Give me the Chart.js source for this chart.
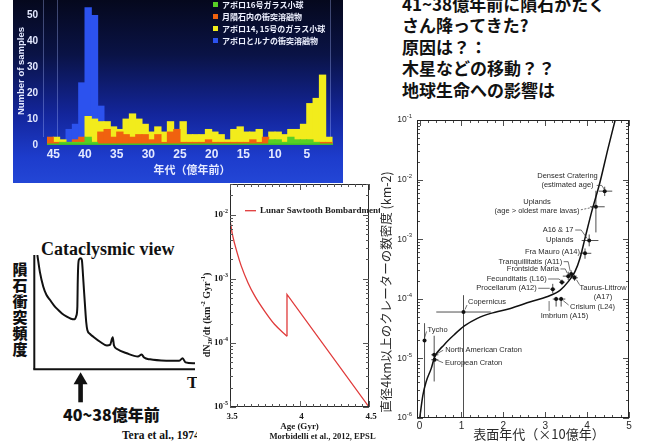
<!DOCTYPE html>
<html lang="ja">
<head>
<meta charset="utf-8">
<title>月の隕石衝突史</title>
<script src="https://cdn.jsdelivr.net/npm/chart.js@4.4.1/dist/chart.umd.min.js"></script>
<style>
  html, body { margin: 0; padding: 0; background: #fff; }
  body { position: relative; width: 653px; height: 445px; overflow: hidden; }
  .box { position: absolute; }
  .box canvas { display: block; }
  #histBox { left: 13px; top: 0; width: 330px; height: 183px; z-index: 2;
    background: linear-gradient(180deg, #05081d 0%, #0a1346 30%, #13259a 62%, #1d3ccc 86%, #2346d6 100%); }
  #note { left: 402px; top: -7.25px; z-index: 1; color: #111; white-space: pre;
    font: bold 17px/21.5px "Noto Sans CJK JP", sans-serif; }
  #sketchBox { left: 0; top: 230px; width: 200px; height: 178px; z-index: 1; }
  .t { position: absolute; white-space: nowrap; color: #111; z-index: 1; }
  #sketchTitle { left: 41px; top: 239px; font: bold 18px/20px "Liberation Serif", serif; }
  #sketchY { left: 11.5px; top: 262px; writing-mode: vertical-rl; letter-spacing: 1px;
    font: 900 15px/16px "Noto Sans CJK JP", sans-serif; }
  #sketchT { left: 187px; top: 374px; font: bold 17px/18px "Liberation Serif", serif; }
  #sketchEra { left: 63px; top: 404.5px; font: 900 16px/18px "Noto Sans CJK JP", sans-serif; }
  #sketchRef { left: 122px; top: 428.5px; font: bold 11.5px/13px "Liberation Serif", serif; }
  #sawBox { left: 197px; top: 183px; width: 183px; height: 262px; background: #fff; z-index: 3; }
  #craterBox { left: 372px; top: 105px; width: 281px; height: 340px; z-index: 4; }
</style>
</head>
<body>
<div class="box" id="histBox"><canvas id="hist" width="330" height="183"></canvas></div>

<div class="box" id="note">41~38億年前に隕石がたく
さん降ってきた?
原因は？：
木星などの移動？？
地球生命への影響は</div>

<div class="t" id="sketchTitle">Cataclysmic view</div>
<div class="t" id="sketchY">隕石衝突頻度</div>
<div class="t" id="sketchT">T</div>
<div class="t" id="sketchEra">40~38億年前</div>
<div class="t" id="sketchRef">Tera et al., 1974</div>
<div class="box" id="sketchBox"><canvas id="sketch" width="200" height="178"></canvas></div>

<div class="box" id="sawBox"><canvas id="saw" width="183" height="262"></canvas></div>
<div class="box" id="craterBox"><canvas id="crater" width="281" height="340"></canvas></div>

<script>
// ---------------------------------------------------------------
// Impact-age histogram: 100-Myr bins, each labelled by the younger
// edge of the bin (in units of 100 Myr before present).
// ---------------------------------------------------------------
const binAge = [45,44,43,42,41,40,39,38,37,36,35,34,33,32,31,30,29,28,27,26,25,24,23,
                22,21,20,19,18,17,16,15,14,13,12,11,10,9,8,7,6,5,4,3,2,1];
const apollo16Glass   = [0,0,1,1,1,1,3,1,0,0,0,0,0,0,0,0,0,0,0,0,0,0,0,
                         0,0,0,0,0,0,0,0,0,0,0,0,2,2,1,3,2,2,2,1,0,0];
const meteoriteMelt   = [3,1,1,1,2,3,2,1,5,6,3,5,4,3,4,4,2,4,1,5,6,1,1,
                         1,1,2,1,1,1,1,1,1,2,1,3,0,0,1,1,1,1,1,1,1,1];
const apollo1415Glass = [0,3,2,0,1,1,11,10,9,9,7,6,10,12,10,8,5,7,5,9,6,9,4,
                         4,4,6,5,4,2,6,7,5,5,6,0,5,5,4,6,6,8,16,18,27,3];
const apolloLunaMelt  = [0,0,0,6,8,24,53,50,15,0,0,0,0,0,0,0,0,0,0,0,0,0,0,
                         0,0,0,0,0,0,0,0,0,0,0,0,0,0,0,0,0,0,0,0,0,0];
const histSeriesNames = ['アポロ16号ガラス小球', '月隕石内の衝突溶融物',
                         'アポロ14, 15号のガラス小球', 'アポロとルナの衝突溶融物'];
const histXTicks = [45,40,35,30,25,20,15,10,5];
const histYTicks = [0,10,20,30,40,50];

// Cataclysm sketch: relative time vs. relative impact frequency
const sketchTime = [1.9,3.5,5.6,7.6,9.8,12.3,14.9,17.2,20.2,22.8,25.1,26.1,26.8,27.0,27.3,27.8,28.8,
                    29.6,30.1,30.9,31.6,32.3,33.0,34.7,36.7,40.9,45.2,47.1,48.8,49.6,51.5,57.5,64.5,
                    66.8,68.3,72.0,82.4,90.0,92.3,94.1,100];
const sketchFlux = [100,85,72.3,65,60.6,55.8,51.9,48.8,46,44.2,43.7,46.6,54.8,73.8,89.8,96,97.1,
                    95.6,86.9,69.4,54.8,41.4,34.4,30.9,28.5,24.1,20.8,21.3,28,20.8,17.8,14,11.2,
                    12.9,10.3,8.7,7.5,7.4,9.6,6.1,5.2];
const sketchPeakTime = 28.8;

// Lunar sawtooth bombardment: crater production rate (km^-2 Gyr^-1)
const sawDecayAge  = [3.50, 3.52, 3.55, 3.58, 3.63, 3.68, 3.75, 3.82, 3.91];
const sawDecayRate = [8.1e-3, 4.6e-3, 2.6e-3, 1.6e-3, 8.6e-4, 5.3e-4, 3.1e-4, 1.95e-4, 1.27e-4];
const sawSpikeAge  = [3.91, 3.91, 4.50];
const sawSpikeRate = [1.27e-4, 5.7e-4, 1.0e-5];
const sawXTicks = [3.5, 4, 4.5];
const sawYExponents = [-5, -4, -3, -2];

// Crater density (D > 4 km) vs. surface age (Gyr)
const curveAge     = [0.005,0.08,0.16,0.28,0.36,0.59,0.83,1.07,1.38,1.70,2.17,2.65,3.04,3.36,
                      3.55,3.71,3.83,3.95,4.11,4.31,4.50,4.67];
const curveDensity = [1.0e-6,2.4e-6,4.1e-6,6.8e-6,1.05e-5,1.7e-5,2.5e-5,3.5e-5,4.7e-5,5.7e-5,
                      6.9e-5,8.9e-5,1.08e-4,1.4e-4,1.94e-4,2.85e-4,4.8e-4,1.04e-3,2.9e-3,9.2e-3,
                      3.35e-2,1.0e-1];
const siteName    = ['Tycho','North American Craton','European Craton','Copernicus','Procellarum (A12)',
                     'Fecunditatis (L16)','Frontside Maria','Tranquillitatis (A11)','Taurus-Littrow (A17)',
                     'Imbrium (A15)','Crisium (L24)','Fra Mauro (A14)','A16 & 17 Uplands','Uplands','Densest Cratering'];
const siteAge     = [0.12, 0.35, 0.36, 1.05, 3.18, 3.40, 3.55, 3.62, 3.70, 3.26, 3.38, 3.95, 4.05, 4.21, 4.42];
const siteDensity = [2.0e-5, 1.15e-5, 9.5e-6, 6.0e-5, 1.45e-4, 1.9e-4, 2.4e-4, 2.6e-4, 2.25e-4,
                     9.9e-5, 9.9e-5, 5.8e-4, 9.5e-4, 3.5e-3, 6.4e-3];
const siteAgeLo   = [null, 0.28, 0.28, 0.40, 3.12, 3.33, 3.42, 3.55, 3.62, 3.18, 3.32, 3.83, 3.87, 4.07, 4.28];
const siteAgeHi   = [null, 0.45, 0.45, 1.70, 3.24, 3.47, 3.75, 3.70, 3.78, 3.32, 3.48, 4.10, 4.27, 4.42, 4.60];
const siteDensLo  = [1e-6, 4.1e-6, null, 1e-6, 1.24e-4, 1.7e-4, 2.05e-4, 2.3e-4, 2.0e-4,
                     7.4e-5, 7.4e-5, 4.7e-4, 7.6e-4, 1.3e-3, 5.3e-3];
const siteDensHi  = [3.9e-5, 2.4e-5, null, 1.15e-4, 1.78e-4, 2.1e-4, 2.85e-4, 3.0e-4, 2.5e-4,
                     1.08e-4, 1.08e-4, 7.0e-4, 1.2e-3, 6.5e-3, 7.6e-3];
const craterXTicks = [0,1,2,3,4,5];
const craterYExponents = [-6,-5,-4,-3,-2,-1];

// label placement for each site (pixel offsets from the plotted point)
const siteLabelLayout = [
  { lines:['Tycho'], dx:3, dy:-10.5, align:'left', lead:[[2,-9],[0,-2.5]] },
  { lines:['North American Craton'], dx:11, dy:-4.5, align:'left', lead:[[9,-4.5],[2.5,-1]] },
  { lines:['European Craton'], dx:10.5, dy:3.6, align:'left', lead:[[8.5,3],[2.5,0.5]] },
  { lines:['Copernicus'], dx:4.5, dy:-9.7, align:'left', lead:[[3.5,-7],[1.5,-2.5]] },
  { lines:['Procellarum (A12)'], dx:-16, dy:-0.9, align:'right', lead:[[-14.5,-0.9],[-3,-0.9]] },
  { lines:['Fecunditatis (L16)'], dx:-15.3, dy:-3.2, align:'right', lead:[[-13.8,-3.2],[-3,-3.2],[-1,-1.5]] },
  { lines:['Frontside Maria'], dx:-9.3, dy:-7.2, align:'right', lead:[[-7.8,-7.2],[-3,-7.2],[-1,-3]] },
  { lines:['Tranquillitatis (A11)'], dx:-9, dy:-12.4, align:'right', lead:[[-7.5,-12.4],[-3,-12.4],[-1,-3]] },
  { lines:['Taurus-Littrow','(A17)'], dx:28.5, dy:9.9, align:'center', lead:[[5,7],[2,2]] },
  { lines:['Imbrium (A15)'], dx:8.3, dy:16.7, align:'center', lead:[[-7,12],[-7,2]] },
  { lines:['Crisium (L24)'], dx:8.9, dy:7.7, align:'left', lead:[[7.5,6],[2,1.5]] },
  { lines:['Fra Mauro (A14)'], dx:-5, dy:-1.6, align:'right', lead:[[-3.5,-1.6],[-1.5,-0.5]] },
  { lines:['A16 & 17','Uplands'], dx:-15.7, dy:-10.5, align:'right', lead:[[-14,-10.5],[-8,-10.5],[-2,-2]] },
  { lines:['Uplands','(age > oldest mare lavas)'], dx:-58.9, dy:-5.1, align:'center', lead:[[-15,3],[-3,0.5]], dash:true },
  { lines:['Densest Cratering','(estimated age)'], dx:-37.2, dy:-15.5, align:'center', lead:[[-8,-5.7],[-3,-5.7],[-0.5,-2]] }
];

// ---------------------------------------------------------------
const pts = (xs, ys) => xs.map((v, i) => ({ x: v, y: ys[i] }));
const SERIF = '"Liberation Serif", "Times New Roman", serif';
const SANS = '"Liberation Sans", Arial, sans-serif';
const JP = '"Noto Sans CJK JP", sans-serif';

function richText(ctx, parts, x, y, align) {
  let w = 0;
  parts.forEach(p => { ctx.font = p.font; p.w = ctx.measureText(p.t).width; w += p.w; });
  let cx = align === 'right' ? x - w : (align === 'center' ? x - w / 2 : x);
  ctx.textAlign = 'left';
  parts.forEach(p => { ctx.font = p.font; ctx.fillText(p.t, cx, y + (p.dy || 0)); cx += p.w; });
}
function seg(ctx, x1, y1, x2, y2) { ctx.beginPath(); ctx.moveTo(x1, y1); ctx.lineTo(x2, y2); ctx.stroke(); }

const common = { responsive: false, animation: false, devicePixelRatio: 1,
                 plugins: { legend: { display: false }, tooltip: { enabled: false } } };

// ---------------- histogram ----------------
const histColors = ['#58cf26', '#f0620f', '#f2ec1c', '#2c52ee'];
const histSeries = [apollo16Glass, meteoriteMelt, apollo1415Glass, apolloLunaMelt];

const histAxes = {
  id: 'histAxes',
  beforeDatasetsDraw(chart) {
    const { ctx, chartArea: a } = chart;
    ctx.save();
    ctx.strokeStyle = 'rgba(170,185,255,0.35)';
    ctx.lineWidth = 1;
    [a.left - 3.5, a.left + 10.5, a.right - 2.5].forEach(px => seg(ctx, px, 0, px, a.bottom - 8));
    ctx.restore();
  },
  afterDatasetsDraw(chart) {
    const { ctx, chartArea: a, scales: { x, y } } = chart;
    ctx.save();
    ctx.fillStyle = '#3fbf2a';
    ctx.fillRect(a.left, a.bottom - 1.5, a.right - a.left, 1.5);
    ctx.fillStyle = '#e4e9ff';
    ctx.textBaseline = 'middle';
    ctx.textAlign = 'right';
    ctx.font = 'bold 10px ' + SANS;
    histYTicks.forEach(v => ctx.fillText(String(v), a.left - 9, y.getPixelForValue(v)));
    ctx.textAlign = 'center';
    ctx.font = 'bold 12px ' + SANS;
    histXTicks.forEach(v => ctx.fillText(String(v), x.getPixelForValue(v), a.bottom + 10));
    ctx.font = 'bold 11px ' + JP;
    ctx.fillText('年代（億年前）', (a.left + a.right) / 2 + 2, a.bottom + 25);
    ctx.save();
    ctx.translate(8, 71);
    ctx.rotate(-Math.PI / 2);
    ctx.font = 'bold 9.5px ' + SANS;
    ctx.fillText('Number of samples', 0, 0);
    ctx.restore();
    // legend
    ctx.textAlign = 'left';
    ctx.font = 'bold 8px ' + JP;
    histSeriesNames.forEach((name, i) => {
      const ly = 4.5 + i * 12;
      ctx.fillStyle = histColors[i];
      ctx.fillRect(200, ly - 2.5, 5, 5);
      ctx.fillStyle = '#eef1ff';
      ctx.fillText(name, 209, ly);
    });
    ctx.restore();
  }
};

new Chart(document.getElementById('hist'), {
  type: 'bar',
  data: {
    datasets: histSeries.map((vals, i) => ({
      label: histSeriesNames[i],
      data: pts(binAge.map(a => a + 0.5), vals),
      backgroundColor: histColors[i],
      borderWidth: 0,
      inflateAmount: 0.5,
      grouped: false,
      barPercentage: 1,
      categoryPercentage: 1
    }))
  },
  options: Object.assign({}, common, {
    layout: { padding: { left: 34, right: 10, top: 0, bottom: 38 } },
    scales: {
      x: { type: 'linear', reverse: true, min: 0.85, max: 46, offset: false, display: false,
           ticks: { stepSize: 1 } },
      y: { min: 0, max: 56, display: false }
    }
  }),
  plugins: [histAxes]
});

// ---------------- cataclysm sketch ----------------
const sketchAxes = {
  id: 'sketchAxes',
  afterDraw(chart) {
    const { ctx, chartArea: a, scales: { x } } = chart;
    ctx.save();
    ctx.strokeStyle = '#111';
    ctx.lineWidth = 2;
    seg(ctx, a.left, a.top, a.left, a.bottom);
    seg(ctx, a.left - 1, a.bottom, a.right, a.bottom);
    // arrow under the spike
    const px = x.getPixelForValue(sketchPeakTime);
    const top = a.bottom + 3;
    ctx.fillStyle = '#111';
    ctx.beginPath();
    ctx.moveTo(px, top);
    ctx.lineTo(px - 7, top + 12);
    ctx.lineTo(px + 7, top + 12);
    ctx.closePath();
    ctx.fill();
    ctx.fillRect(px - 2.3, top + 11, 4.6, 19);
    ctx.restore();
  }
};

new Chart(document.getElementById('sketch'), {
  type: 'line',
  data: { datasets: [{
    data: pts(sketchTime, sketchFlux),
    borderColor: '#111', borderWidth: 2, pointRadius: 0,
    cubicInterpolationMode: 'monotone', fill: false
  }] },
  options: Object.assign({}, common, {
    layout: { padding: { left: 34.3, right: 5, top: 25, bottom: 38.7 } },
    scales: {
      x: { type: 'linear', min: 0, max: 100, display: false },
      y: { type: 'linear', min: 0, max: 100, display: false }
    }
  }),
  plugins: [sketchAxes]
});

// ---------------- sawtooth bombardment ----------------
const sawFrame = {
  id: 'sawFrame',
  afterDraw(chart) {
    const { ctx, chartArea: a, scales: { x, y } } = chart;
    ctx.save();
    ctx.strokeStyle = '#2a2a2a';
    ctx.lineWidth = 1;
    ctx.strokeRect(a.left + 0.5, a.top + 0.5, a.right - a.left - 1, a.bottom - a.top - 1);
    ctx.strokeStyle = '#555';
    for (let i = 0; i <= 20; i++) {
      const px = Math.round(x.getPixelForValue(3.5 + i * 0.05)) + 0.5;
      const L = i % 10 === 0 ? 6 : 3;
      seg(ctx, px, a.bottom, px, a.bottom - L);
      seg(ctx, px, a.top, px, a.top + L);
    }
    for (let e = -5; e <= -2; e++) {
      for (let k = 1; k <= 9; k++) {
        const v = k * Math.pow(10, e);
        if (v < y.min || v > y.max) continue;
        const py = Math.round(y.getPixelForValue(v)) + 0.5;
        const L = k === 1 ? 6 : 3;
        seg(ctx, a.left, py, a.left + L, py);
        seg(ctx, a.right, py, a.right - L, py);
      }
    }
    ctx.fillStyle = '#1a1a1a';
    ctx.textBaseline = 'middle';
    sawYExponents.forEach(e => {
      richText(ctx, [{ t: '10', font: 'bold 9px ' + SERIF },
                     { t: String(e), font: 'bold 6px ' + SERIF, dy: -3.5 }],
               a.left - 2, y.getPixelForValue(Math.pow(10, e)), 'right');
    });
    ctx.textAlign = 'center';
    ctx.font = 'bold 9px ' + SERIF;
    sawXTicks.forEach(v => ctx.fillText(String(v), x.getPixelForValue(v) + 2, a.bottom + 10));
    ctx.fillText('Age (Gyr)', x.getPixelForValue(4), a.bottom + 20);
    ctx.font = 'bold 8.6px ' + SERIF;
    ctx.fillText('Morbidelli et al., 2012, EPSL', 125.5, a.bottom + 30);
    // rotated axis title
    ctx.save();
    ctx.translate(10, 132);
    ctx.rotate(-Math.PI / 2);
    const big = 'bold 10px ' + SERIF, small = 'bold 6.5px ' + SERIF;
    richText(ctx, [{ t: 'dN', font: big }, { t: '20', font: small, dy: 3 }, { t: '/dt (km', font: big },
                   { t: '-2', font: small, dy: -3.5 }, { t: ' Gyr', font: big },
                   { t: '-1', font: small, dy: -3.5 }, { t: ')', font: big }], 0, 0, 'center');
    ctx.restore();
    // legend
    ctx.strokeStyle = '#e03a3a';
    ctx.lineWidth = 1.3;
    seg(ctx, a.left + 15, 27.7, a.left + 26, 27.7);
    ctx.textAlign = 'left';
    ctx.font = 'bold 9px ' + SERIF;
    ctx.fillStyle = '#1a1a1a';
    ctx.fillText('Lunar Sawtooth Bombardment', a.left + 30, 27.7);
    ctx.restore();
  }
};

new Chart(document.getElementById('saw'), {
  type: 'line',
  data: { datasets: [
    { label: 'Lunar Sawtooth Bombardment', data: pts(sawDecayAge, sawDecayRate),
      borderColor: '#e03a3a', borderWidth: 1.3, pointRadius: 0, cubicInterpolationMode: 'monotone' },
    { data: pts(sawSpikeAge, sawSpikeRate),
      borderColor: '#e03a3a', borderWidth: 1.3, pointRadius: 0, tension: 0 }
  ] },
  options: Object.assign({}, common, {
    layout: { padding: { left: 33, right: 11, top: 1, bottom: 38 } },
    scales: {
      x: { type: 'linear', min: 3.5, max: 4.5, display: false },
      y: { type: 'logarithmic', min: 1e-5, max: 0.03, display: false }
    }
  }),
  plugins: [sawFrame]
});

// ---------------- crater density vs. age ----------------
const craterFrame = {
  id: 'craterFrame',
  beforeDatasetsDraw(chart) {
    const { ctx, scales: { x, y } } = chart;
    ctx.save();
    ctx.strokeStyle = '#222';
    ctx.lineWidth = 0.8;
    siteAge.forEach((age, i) => {
      const px = x.getPixelForValue(age), py = y.getPixelForValue(siteDensity[i]);
      if (siteAgeLo[i] !== null) seg(ctx, x.getPixelForValue(siteAgeLo[i]), py, x.getPixelForValue(siteAgeHi[i]), py);
      if (siteDensLo[i] !== null) seg(ctx, px, y.getPixelForValue(siteDensLo[i]), px, y.getPixelForValue(siteDensHi[i]));
    });
    ctx.restore();
  },
  afterDraw(chart) {
    const { ctx, chartArea: a, scales: { x, y } } = chart;
    ctx.save();
    ctx.strokeStyle = '#222';
    ctx.lineWidth = 1;
    ctx.strokeRect(a.left + 0.5, a.top + 0.5, a.right - a.left - 1, a.bottom - a.top - 1);
    ctx.lineWidth = 0.8;
    for (let i = 0; i <= 25; i++) {
      const v = i * 0.2;
      const px = Math.round(x.getPixelForValue(v)) + 0.5;
      const L = i % 5 === 0 ? 6 : 3;
      seg(ctx, px, a.bottom, px, a.bottom - L);
      seg(ctx, px, a.top, px, a.top + L);
    }
    for (let e = -6; e <= -1; e++) {
      for (let k = 1; k <= 9; k++) {
        const v = k * Math.pow(10, e);
        if (v > y.max * 1.0001) continue;
        const py = Math.round(y.getPixelForValue(v)) + 0.5;
        const L = k === 1 ? 6 : 3;
        seg(ctx, a.left, py, a.left + L, py);
        seg(ctx, a.right, py, a.right - L, py);
      }
    }
    ctx.fillStyle = '#2a2a2a';
    ctx.textBaseline = 'middle';
    craterYExponents.forEach(e => {
      richText(ctx, [{ t: '10', font: '8.5px ' + SANS },
                     { t: String(e), font: '6px ' + SANS, dy: -3.5 }],
               a.left - 5, y.getPixelForValue(Math.pow(10, e)), 'right');
    });
    ctx.textAlign = 'center';
    ctx.font = '10px ' + SANS;
    craterXTicks.forEach(v => ctx.fillText(String(v), x.getPixelForValue(v), a.bottom + 8));
    ctx.font = '13px ' + JP;
    ctx.fillText('表面年代（×10億年）', 167, a.bottom + 16);
    ctx.save();
    ctx.translate(14, 187);
    ctx.rotate(-Math.PI / 2);
    ctx.font = '12.5px ' + JP;
    ctx.fillText('直径4km以上のクレーターの数密度 (km-2)', 0, 0);
    ctx.restore();
    // site labels with leader lines
    ctx.font = '7.5px ' + SANS;
    ctx.strokeStyle = '#333';
    ctx.lineWidth = 0.7;
    siteLabelLayout.forEach((lab, i) => {
      const px = x.getPixelForValue(siteAge[i]), py = y.getPixelForValue(siteDensity[i]);
      ctx.setLineDash(lab.dash ? [2, 1.5] : []);
      ctx.beginPath();
      lab.lead.forEach((p, j) => j ? ctx.lineTo(px + p[0], py + p[1]) : ctx.moveTo(px + p[0], py + p[1]));
      ctx.stroke();
      ctx.textAlign = lab.align;
      lab.lines.forEach((t, j) => ctx.fillText(t, px + lab.dx, py + lab.dy + j * 9.5));
    });
    ctx.restore();
  }
};

new Chart(document.getElementById('crater'), {
  type: 'line',
  data: { datasets: [
    { type: 'scatter', data: pts(siteAge, siteDensity), pointRadius: 2, pointBackgroundColor: '#111',
      pointBorderColor: '#111', pointBorderWidth: 0 },
    { data: pts(curveAge, curveDensity), borderColor: '#111', borderWidth: 1.5, pointRadius: 0,
      cubicInterpolationMode: 'monotone' }
  ] },
  options: Object.assign({}, common, {
    layout: { padding: { left: 45, right: 24, top: 15, bottom: 27 } },
    scales: {
      x: { type: 'linear', min: -0.06, max: 5, display: false },
      y: { type: 'logarithmic', min: 1e-6, max: 0.1, display: false }
    }
  }),
  plugins: [craterFrame]
});
</script>
</body>
</html>
